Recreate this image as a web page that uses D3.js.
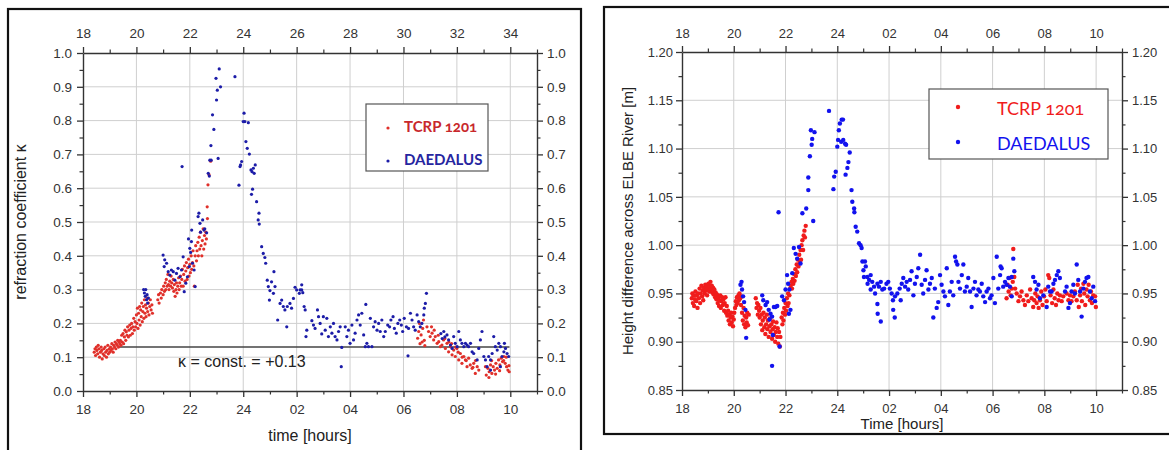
<!DOCTYPE html>
<html>
<head>
<meta charset="utf-8">
<script src="https://cdn.jsdelivr.net/npm/d3@7"></script>
<style>
  body { margin: 0; background: #fff; }
  svg { display: block; font-family: "Liberation Sans", Arial, sans-serif; }
</style>
</head>
<body>
<svg id="chart" width="1169" height="450"></svg>
<script>
// ---- time axis (hours after 18:00, continuing past midnight) ----
const majorHours = [18, 20, 22, 24, 26, 28, 30, 32, 34];
const minorHours = [19, 21, 23, 25, 27, 29, 31, 33, 35];
const kappaTopLabels = ["18", "20", "22", "24", "26", "28", "30", "32", "34"];
const clockLabels = ["18", "20", "22", "24", "02", "04", "06", "08", "10"];

// ---- value axes ----
const kappaTicks = [0, 0.1, 0.2, 0.3, 0.4, 0.5, 0.6, 0.7, 0.8, 0.9, 1.0];
const kappaMinor = [0.05, 0.15, 0.25, 0.35, 0.45, 0.55, 0.65, 0.75, 0.85, 0.95];
const heightTicks = [0.85, 0.90, 0.95, 1.00, 1.05, 1.10, 1.15, 1.20];
const heightMinor = [0.875, 0.925, 0.975, 1.025, 1.075, 1.125, 1.175];

const seriesNames = ["TCRP 1201", "DAEDALUS"];
const kappaConst = 0.13;

// ---- refraction coefficient, TCRP 1201 [hour, kappa] ----
const kappaTcrp = [
  [18.42,0.115],[18.45,0.125],[18.47,0.105],[18.5,0.13],[18.52,0.12],[18.55,0.11],[18.57,0.135],[18.6,0.125],
  [18.62,0.10],[18.65,0.115],[18.68,0.13],[18.7,0.12],[18.72,0.095],[18.75,0.11],[18.78,0.125],[18.8,0.105],
  [18.83,0.13],[18.85,0.115],[18.88,0.10],[18.9,0.12],[18.93,0.135],[18.95,0.11],[18.98,0.125],[19.0,0.115],
  [19.03,0.13],[19.05,0.12],[19.08,0.14],[19.1,0.125],[19.13,0.115],[19.15,0.135],[19.18,0.13],[19.2,0.145],
  [19.23,0.125],[19.25,0.14],[19.28,0.135],[19.3,0.15],[19.33,0.13],[19.35,0.145],[19.38,0.14],
  [19.4,0.15],[19.42,0.135],[19.45,0.165],[19.47,0.145],[19.5,0.17],[19.52,0.14],[19.55,0.16],[19.57,0.18],
  [19.6,0.15],[19.62,0.175],[19.65,0.165],[19.67,0.19],[19.7,0.16],[19.72,0.18],[19.75,0.195],[19.77,0.165],
  [19.8,0.185],[19.82,0.2],[19.85,0.17],[19.87,0.19],[19.9,0.215],[19.92,0.18],[19.95,0.205],[19.97,0.19],
  [20.0,0.225],[20.02,0.2],[20.04,0.245],[20.06,0.185],[20.08,0.23],[20.1,0.21],[20.12,0.25],[20.14,0.195],
  [20.16,0.24],[20.18,0.22],[20.2,0.26],[20.22,0.205],[20.24,0.235],[20.26,0.25],[20.28,0.215],[20.3,0.27],
  [20.32,0.23],[20.34,0.255],[20.36,0.22],[20.38,0.245],[20.4,0.275],[20.42,0.235],[20.45,0.26],[20.47,0.225],
  [20.5,0.25],[20.52,0.27],[20.55,0.24],[20.58,0.255],[20.6,0.23],
  [20.8,0.27],[20.83,0.285],[20.85,0.26],[20.9,0.29],[20.93,0.275],[20.95,0.3],[21.0,0.285],[21.02,0.31],
  [21.05,0.295],[21.08,0.32],[21.1,0.3],[21.12,0.33],[21.15,0.31],[21.18,0.345],[21.2,0.315],[21.22,0.3],
  [21.25,0.325],[21.28,0.31],[21.3,0.34],[21.32,0.32],[21.35,0.305],[21.38,0.33],[21.4,0.295],[21.42,0.315],
  [21.45,0.28],[21.48,0.3],[21.5,0.32],[21.52,0.29],[21.55,0.31],[21.58,0.335],[21.6,0.3],[21.62,0.32],
  [21.65,0.34],[21.68,0.31],
  [21.7,0.33],[21.72,0.36],[21.75,0.31],[21.77,0.345],[21.8,0.37],[21.82,0.325],[21.85,0.355],[21.87,0.38],
  [21.9,0.33],[21.92,0.365],[21.95,0.39],[21.97,0.34],[22.0,0.375],[22.02,0.35],[22.05,0.4],[22.07,0.36],
  [22.1,0.38],[22.12,0.415],[22.15,0.37],[22.17,0.31],[22.2,0.4],[22.22,0.43],[22.25,0.385],[22.27,0.415],
  [22.3,0.44],[22.32,0.4],[22.35,0.455],[22.37,0.42],[22.4,0.47],[22.42,0.43],[22.45,0.4],[22.47,0.445],
  [22.5,0.48],[22.52,0.42],[22.55,0.46],[22.57,0.435],[22.6,0.47],[22.62,0.45],
  [22.65,0.545],[22.66,0.51],[22.68,0.61],[22.72,0.64],[22.78,0.68],
  [30.53,0.156],[30.57,0.176],[30.6,0.2],[30.62,0.14],[30.66,0.166],[30.7,0.145],[30.72,0.185],[30.75,0.21],
  [30.78,0.15],[30.8,0.134],[30.88,0.19],[30.94,0.176],[31.0,0.161],[31.05,0.19],[31.07,0.171],[31.13,0.151],
  [31.15,0.18],[31.19,0.161],[31.26,0.141],[31.3,0.165],[31.32,0.146],[31.38,0.131],[31.44,0.136],[31.5,0.151],
  [31.55,0.155],[31.57,0.126],[31.63,0.141],[31.69,0.116],[31.7,0.145],[31.76,0.131],[31.8,0.14],[31.82,0.107],
  [31.88,0.121],[31.94,0.102],[31.95,0.13],[32.0,0.126],[32.05,0.115],[32.07,0.092],[32.13,0.111],[32.19,0.082],
  [32.2,0.1],[32.26,0.102],[32.32,0.092],[32.35,0.09],[32.38,0.072],[32.44,0.097],[32.5,0.077],[32.57,0.067],
  [32.6,0.07],[32.63,0.082],[32.69,0.052],[32.7,0.09],[32.76,0.072],[32.82,0.062],
  [33.07,0.072],[33.1,0.047],[33.16,0.067],[33.2,0.04],[33.21,0.057],[33.26,0.077],[33.3,0.09],[33.31,0.052],
  [33.36,0.072],[33.41,0.062],[33.45,0.05],[33.46,0.082],[33.51,0.067],[33.56,0.092],[33.6,0.06],[33.61,0.077],
  [33.66,0.097],[33.71,0.087],[33.75,0.09],[33.76,0.102],[33.81,0.082],[33.85,0.1],[33.86,0.072],[33.91,0.062],
  [33.95,0.075],[33.96,0.057]
];

// ---- refraction coefficient, DAEDALUS [hour, kappa] ----
const kappaDaedalus = [
  [20.27,0.3],[20.3,0.29],[20.33,0.28],[20.35,0.3],[20.38,0.27],[20.4,0.285],[20.42,0.26],[20.45,0.275],
  [21.0,0.402],[21.06,0.388],[21.13,0.378],[21.04,0.368],[21.19,0.353],[21.25,0.343],[21.31,0.358],[21.38,0.353],
  [21.44,0.328],[21.5,0.348],[21.56,0.363],[21.63,0.338],[21.69,0.358],[21.75,0.397],[21.79,0.294],[21.85,0.319],
  [21.91,0.338],[21.95,0.45],[21.98,0.368],[22.0,0.422],[22.03,0.41],[22.06,0.442],[22.07,0.476],[22.1,0.378],
  [22.16,0.358],[22.2,0.309],[21.71,0.664],[22.31,0.516],[22.34,0.526],[22.38,0.496],[22.4,0.47],[22.48,0.506],
  [22.53,0.476],[22.56,0.48],[22.63,0.468],
  [22.69,0.644],[22.73,0.636],[22.75,0.683],[22.8,0.683],[22.79,0.726],[22.9,0.774],[22.85,0.817],[23.0,0.861],
  [23.03,0.89],[22.98,0.925],[23.15,0.9],[23.1,0.953],[23.06,0.688],[23.69,0.93],
  [23.84,0.609],[23.9,0.669],[23.94,0.679],[23.88,0.664],[24.03,0.822],[24.06,0.797],[24.19,0.794],[24.0,0.797],
  [24.1,0.738],[24.15,0.718],[24.23,0.701],[24.29,0.654],[24.38,0.659],[24.45,0.669],[24.41,0.644],[24.33,0.649],
  [24.35,0.597],[24.31,0.582],[24.5,0.56],[24.59,0.526],[24.56,0.506],[24.6,0.494],[24.69,0.427],[24.75,0.407],
  [24.81,0.395],[24.84,0.378],[24.9,0.328],[24.94,0.309],[25.0,0.297],[25.06,0.323],[25.15,0.353],[25.19,0.309],
  [25.13,0.289],[24.98,0.269],[25.29,0.21],[25.38,0.259],[25.44,0.269],[25.5,0.25],[25.56,0.24],[25.63,0.19],
  [25.65,0.25],[25.75,0.259],[25.81,0.245],[25.88,0.274],[25.94,0.307],[26.0,0.299],[26.1,0.289],[26.19,0.299],
  [26.13,0.299],[26.23,0.291],[26.19,0.314],[26.28,0.25],[26.32,0.24],[26.38,0.18],[26.35,0.161],[26.57,0.208],
  [26.63,0.195],[26.69,0.185],[26.78,0.24],[26.82,0.22],[26.88,0.2],[26.94,0.169],[27.0,0.22],[27.07,0.18],
  [27.13,0.215],[27.19,0.161],[27.26,0.19],[27.32,0.171],[27.38,0.2],[27.44,0.161],[27.51,0.151],[27.57,0.176],
  [27.63,0.19],[27.69,0.129],[27.67,0.072],[27.82,0.19],[27.88,0.161],[27.94,0.18],[28.0,0.141],[28.07,0.195],
  [28.13,0.151],[28.19,0.171],[28.26,0.21],[28.32,0.225],[28.38,0.195],[28.44,0.23],[28.51,0.166],[28.57,0.131],
  [28.59,0.256],[28.63,0.141],[28.69,0.131],[28.76,0.215],[28.82,0.131],[28.88,0.19],[28.94,0.205],[29.01,0.18],
  [29.07,0.2],[29.13,0.176],[29.19,0.21],[29.26,0.161],[29.32,0.176],[29.41,0.195],[29.48,0.19],[29.53,0.21],
  [29.61,0.22],[29.66,0.185],[29.73,0.171],[29.79,0.2],[29.86,0.21],[29.92,0.195],[29.97,0.176],[30.03,0.215],
  [30.11,0.19],[30.17,0.104],[30.19,0.185],[30.26,0.23],[30.32,0.21],[30.38,0.19],[30.44,0.18],[30.51,0.225],
  [30.57,0.205],[30.63,0.19],[30.69,0.2],[30.76,0.225],[30.78,0.245],[30.82,0.259],[30.86,0.289],
  [31.4,0.17],[31.45,0.155],[31.51,0.176],[31.55,0.16],[31.63,0.166],[31.69,0.151],[31.76,0.136],[31.82,0.126],
  [31.88,0.161],[31.94,0.141],[32.01,0.131],[32.07,0.176],[32.13,0.151],[32.19,0.141],[32.26,0.131],[32.32,0.141],
  [32.38,0.136],[32.44,0.131],[32.51,0.141],[32.57,0.116],[32.63,0.111],[32.76,0.092],[32.82,0.126],[32.88,0.151],
  [32.94,0.176],[33.01,0.102],[33.07,0.092],[33.13,0.072],[33.19,0.102],[33.26,0.092],[33.32,0.111],[33.38,0.161],
  [33.44,0.131],[33.51,0.121],[33.57,0.141],[33.63,0.131],[33.69,0.102],[33.76,0.116],[33.82,0.126],[33.88,0.111],
  [33.94,0.102],[33.78,0.141],[33.63,0.072],[33.26,0.062]
];

// ---- height difference across the river, TCRP 1201 [hour, metres] ----
const heightTcrp = [
  [18.38,0.945],[18.4,0.95],[18.42,0.94],[18.45,0.948],[18.47,0.937],[18.5,0.944],[18.52,0.952],[18.55,0.942],
  [18.57,0.948],[18.6,0.935],[18.62,0.95],[18.65,0.945],[18.68,0.955],[18.7,0.94],[18.72,0.95],[18.75,0.958],
  [18.78,0.947],[18.8,0.953],[18.82,0.943],[18.85,0.956],[18.88,0.95],[18.9,0.959],
  [18.92,0.953],[18.95,0.957],[18.97,0.948],[19.0,0.955],[19.02,0.96],[19.05,0.952],[19.07,0.957],[19.1,0.962],
  [19.12,0.954],[19.15,0.958],[19.17,0.951],[19.2,0.956],[19.22,0.949],[19.25,0.954],[19.28,0.946],[19.3,0.951],
  [19.33,0.944],[19.35,0.949],[19.38,0.94],[19.4,0.946],[19.43,0.937],[19.45,0.943],[19.48,0.948],[19.5,0.935],
  [19.52,0.942],[19.55,0.946],[19.58,0.938],[19.6,0.944],[19.63,0.932],[19.65,0.94],[19.68,0.946],[19.7,0.93],
  [19.73,0.937],[19.75,0.927],[19.78,0.932],[19.8,0.922],[19.82,0.928],[19.85,0.918],[19.88,0.925],[19.9,0.93],
  [19.92,0.92],[19.95,0.926],[19.97,0.916],[20.0,0.923],[20.02,0.93],
  [20.05,0.935],[20.08,0.942],[20.1,0.938],[20.12,0.946],[20.15,0.94],[20.18,0.948],[20.2,0.943],[20.22,0.95],
  [20.25,0.945],[20.28,0.938],[20.3,0.947],
  [20.32,0.93],[20.35,0.922],[20.38,0.935],[20.4,0.918],[20.42,0.927],[20.45,0.915],[20.48,0.925],[20.5,0.92],
  [20.52,0.93],[20.55,0.917],[20.58,0.928],
  [20.85,0.945],[20.88,0.935],[20.9,0.94],[20.93,0.928],[20.95,0.938],[20.98,0.932],
  [21.0,0.925],[21.03,0.935],[21.05,0.918],[21.08,0.928],[21.1,0.912],[21.12,0.922],[21.15,0.93],[21.18,0.915],
  [21.2,0.925],[21.22,0.908],[21.25,0.918],[21.28,0.928],[21.3,0.913],[21.32,0.922],[21.35,0.905],[21.38,0.916],
  [21.4,0.924],[21.42,0.91],[21.45,0.918],[21.48,0.903],[21.5,0.913],[21.52,0.921],[21.55,0.907],[21.58,0.915],
  [21.6,0.9],[21.62,0.91],[21.65,0.92],[21.68,0.905],[21.7,0.914],[21.72,0.898],[21.75,0.91],[21.78,0.895],
  [21.8,0.905],
  [21.85,0.925],[21.88,0.918],[21.9,0.93],[21.92,0.922],[21.95,0.935],[21.98,0.928],[22.0,0.94],[22.02,0.932],
  [22.05,0.945],[22.08,0.937],[22.1,0.95],[22.12,0.94],[22.15,0.948],[22.18,0.955],
  [22.2,0.958],[22.23,0.962],[22.25,0.955],[22.28,0.965],[22.3,0.96],[22.33,0.97],[22.35,0.963],[22.38,0.975],
  [22.4,0.968],[22.43,0.98],[22.45,0.972],[22.48,0.985],[22.5,0.978],[22.53,0.99],[22.55,0.982],[22.58,0.995],
  [22.6,0.985],[22.62,1.0],[22.65,1.005],[22.68,0.995],[22.7,1.01],[22.73,1.015],[22.75,1.008],[22.78,1.02],
  [30.54,0.945],[30.58,0.959],[30.62,0.952],[30.66,0.966],[30.7,0.948],[30.74,0.955],[30.78,0.962],[30.8,0.996],
  [30.84,0.967],[30.87,0.955],[30.93,0.95],[31.0,0.942],[31.06,0.947],[31.12,0.952],[31.19,0.943],[31.25,0.938],
  [31.32,0.948],[31.38,0.942],[31.45,0.954],[31.51,0.945],[31.57,0.936],[31.61,0.943],[31.65,0.95],[31.7,0.94],
  [31.74,0.947],[31.78,0.935],[31.83,0.943],[31.88,0.952],[31.93,0.938],[31.99,0.947],[32.04,0.954],[32.09,0.942],
  [32.15,0.969],[32.19,0.966],[32.24,0.948],[32.3,0.94],[32.35,0.954],[32.4,0.945],[32.45,0.938],[32.5,0.95],
  [32.55,0.943],[32.6,0.948],[32.67,0.942],[32.73,0.947],[32.86,0.95],[32.93,0.943],[32.99,0.948],[33.05,0.942],
  [33.12,0.947],[33.18,0.952],[33.25,0.943],[33.29,0.959],[33.33,0.936],[33.38,0.948],[33.42,0.955],[33.45,0.942],
  [33.51,0.96],[33.54,0.95],[33.58,0.938],[33.63,0.954],[33.67,0.947],[33.71,0.959],[33.76,0.943],[33.8,0.952],
  [33.84,0.94],[33.89,0.948],[33.96,0.947],[33.99,0.936]
];

// ---- height difference across the river, DAEDALUS [hour, metres] ----
const heightDaedalus = [
  [20.26,0.959],[20.3,0.962],[20.32,0.954],[20.36,0.947],[20.4,0.941],[20.45,0.933],[20.48,0.904],
  [21.1,0.948],[21.14,0.943],[21.23,0.938],[21.29,0.941],[21.35,0.933],[21.42,0.929],[21.38,0.923],[21.48,0.926],
  [21.55,0.936],[21.61,0.936],[21.68,0.937],[21.51,0.907],[21.48,0.875],[21.77,0.895],[21.73,1.034],
  [21.87,0.947],[21.94,0.943],[22.0,0.954],[22.06,0.969],[22.1,0.96],[22.13,0.929],[22.19,0.933],[22.15,0.954],
  [22.26,0.971],[22.32,0.997],[22.39,0.991],[22.45,0.986],[22.52,0.998],[22.58,0.981],
  [22.65,1.033],[22.8,1.038],[23.07,1.025],[22.88,1.057],[22.88,1.07],[22.94,1.092],[23.01,1.104],[23.03,1.11],
  [22.98,1.119],[23.12,1.117],[23.68,1.139],
  [23.85,1.058],[23.88,1.071],[23.94,1.076],[24.0,1.102],[24.03,1.109],[24.06,1.119],[24.1,1.126],[24.17,1.13],
  [24.22,1.13],[24.15,1.107],[24.23,1.109],[24.3,1.105],[24.34,1.104],[24.48,1.096],[24.43,1.086],[24.39,1.08],
  [24.32,1.073],[24.55,1.057],[24.58,1.045],[24.65,1.038],[24.66,1.034],[24.71,1.019],[24.77,1.014],[24.84,1.002],
  [24.9,1.0],[24.94,0.997],[24.97,0.983],[25.07,0.983],[25.1,0.978],[25.01,0.974],[25.03,0.967],[25.16,0.967],
  [25.29,0.969],[25.23,0.964],[25.35,0.962],[25.42,0.957],[25.17,0.96],[25.29,0.954],[25.46,0.95],[25.55,0.96],
  [25.61,0.957],[25.68,0.962],[25.74,0.954],[25.81,0.955],[25.9,0.96],[25.97,0.962],[26.03,0.955],[26.1,0.95],
  [26.15,0.943],[26.23,0.947],[26.32,0.95],[26.41,0.955],[26.45,0.943],[25.55,0.939],[25.56,0.929],[25.68,0.921],
  [26.16,0.933],[26.22,0.925],
  [26.49,0.96],[26.55,0.966],[26.62,0.957],[26.68,0.962],[26.74,0.954],[26.81,0.964],[26.87,0.973],[26.94,0.948],
  [27.0,0.96],[27.07,0.967],[27.13,0.976],[27.2,0.99],[27.26,0.959],[27.32,0.95],[27.39,0.964],[27.45,0.974],
  [27.52,0.954],[27.58,0.96],[27.65,0.966],[27.71,0.925],[27.77,0.955],[27.84,0.935],[27.9,0.941],[27.97,0.969],
  [28.03,0.959],[28.1,0.952],[28.16,0.947],[28.23,0.976],[28.29,0.938],[28.35,0.952],[28.42,0.962],[28.48,0.948],
  [28.55,0.988],[28.59,0.983],[28.64,0.98],[28.68,0.962],[28.74,0.955],[28.81,0.969],[28.87,0.98],[28.93,0.952],
  [29.0,0.957],[29.06,0.966],[29.13,0.952],[29.19,0.936],[29.26,0.955],[29.32,0.962],[29.38,0.948],[29.45,0.954],
  [29.51,0.952],[29.58,0.96],[29.64,0.947],[29.71,0.941],[29.77,0.952],[29.84,0.955],[29.9,0.945],[29.96,0.948],
  [30.03,0.966],[30.09,0.94],[30.16,0.988],[30.22,0.955],[30.29,0.969],[30.31,0.978],[30.35,0.976],[30.41,0.957],
  [30.48,0.962],[30.54,0.959],[30.61,0.966],[30.67,0.957],[30.74,0.967],[30.8,0.986],[30.84,0.973],[30.74,0.947],
  [31.57,0.967],[31.64,0.962],[31.7,0.954],[31.77,0.959],[31.83,0.945],[31.96,0.948],[32.09,0.936],[32.15,0.957],
  [32.22,0.952],[32.28,0.952],[32.35,0.96],[32.41,0.964],[32.48,0.969],[32.54,0.973],[32.6,0.966],[32.8,0.952],
  [32.86,0.957],[32.93,0.935],[32.99,0.94],[33.05,0.952],[33.12,0.959],[33.18,0.95],[33.25,0.98],[33.31,0.964],
  [33.38,0.952],[33.44,0.926],[33.51,0.955],[33.57,0.962],[33.63,0.966],[33.7,0.967],[33.76,0.952],[33.83,0.945],
  [33.89,0.957],[33.96,0.942]
];

const svg = d3.select("#chart");

function drawPanel(cfg) {
  const g = svg.append("g");
  const x = d3.scaleLinear().domain([18, 35]).range([cfg.left, cfg.right]);
  const y = d3.scaleLinear().domain(cfg.yDomain).range([cfg.bottom, cfg.top]);

  // outer frame
  g.append("rect")
    .attr("x", cfg.frame[0]).attr("y", cfg.frame[1])
    .attr("width", cfg.frame[2]).attr("height", cfg.frame[3])
    .attr("fill", "none").attr("stroke", "#111").attr("stroke-width", 2.2);

  // grid
  const grid = g.append("g").attr("stroke", "#cfcfcf").attr("stroke-width", 1);
  grid.selectAll("line.v").data(majorHours.filter(d => d > 18)).join("line")
    .attr("x1", d => x(d)).attr("x2", d => x(d))
    .attr("y1", cfg.top).attr("y2", cfg.bottom);
  grid.selectAll("line.h").data(cfg.yTicks.filter((d, i) => i > 0 && i < cfg.yTicks.length - 1)).join("line")
    .attr("x1", cfg.left).attr("x2", cfg.right)
    .attr("y1", d => y(d)).attr("y2", d => y(d));

  if (cfg.extra) cfg.extra(g, x, y);

  // scatter points
  cfg.series.forEach(s => {
    g.append("g").selectAll("circle").data(s.data).join("circle")
      .attr("cx", d => x(d[0])).attr("cy", d => y(d[1]))
      .attr("r", cfg.r).attr("fill", s.color);
  });

  // axes
  const styleAxis = sel => {
    sel.select(".domain").attr("stroke", "#333").attr("stroke-width", 1.4);
    sel.selectAll(".tick line").attr("stroke", "#333").attr("stroke-width", 1.3);
    sel.selectAll(".tick text").attr("fill", "#333")
      .style("font-family", '"Liberation Sans", Arial, sans-serif')
      .style("font-size", cfg.tickFont + "px");
  };
  const minorStyle = sel => {
    sel.select(".domain").remove();
    sel.selectAll(".tick line").attr("stroke", "#333").attr("stroke-width", 1.2);
  };

  g.append("g").attr("transform", `translate(0,${cfg.bottom})`)
    .call(d3.axisBottom(x).tickValues(majorHours).tickFormat((d, i) => cfg.bottomLabels[i])
      .tickSizeInner(6).tickSizeOuter(0).tickPadding(cfg.bottomPad)).call(styleAxis);
  g.append("g").attr("transform", `translate(0,${cfg.bottom})`)
    .call(d3.axisBottom(x).tickValues(minorHours).tickFormat("").tickSize(3.5)).call(minorStyle);

  g.append("g").attr("transform", `translate(0,${cfg.top})`)
    .call(d3.axisTop(x).tickValues(majorHours).tickFormat((d, i) => cfg.topLabels[i])
      .tickSizeInner(6).tickSizeOuter(0).tickPadding(cfg.topPad)).call(styleAxis);
  g.append("g").attr("transform", `translate(0,${cfg.top})`)
    .call(d3.axisTop(x).tickValues(minorHours).tickFormat("").tickSize(3.5)).call(minorStyle);

  g.append("g").attr("transform", `translate(${cfg.left},0)`)
    .call(d3.axisLeft(y).tickValues(cfg.yTicks).tickFormat(d3.format(cfg.yFormat))
      .tickSizeInner(6).tickSizeOuter(0).tickPadding(cfg.leftPad)).call(styleAxis);
  g.append("g").attr("transform", `translate(${cfg.left},0)`)
    .call(d3.axisLeft(y).tickValues(cfg.yMinor).tickFormat("").tickSize(3.5)).call(minorStyle);

  g.append("g").attr("transform", `translate(${cfg.right},0)`)
    .call(d3.axisRight(y).tickValues(cfg.yTicks).tickFormat(d3.format(cfg.yFormat))
      .tickSizeInner(6).tickSizeOuter(0).tickPadding(4)).call(styleAxis);
  g.append("g").attr("transform", `translate(${cfg.right},0)`)
    .call(d3.axisRight(y).tickValues(cfg.yMinor).tickFormat("").tickSize(3.5)).call(minorStyle);

  // axis titles
  g.append("text").attr("x", (cfg.left + cfg.right) / 2).attr("y", cfg.xTitleY)
    .attr("text-anchor", "middle").attr("fill", "#222")
    .style("font-size", cfg.titleFont + "px").text(cfg.xTitle);
  g.append("text")
    .attr("transform", `translate(${cfg.yTitleX},${(cfg.top + cfg.bottom) / 2}) rotate(-90)`)
    .attr("text-anchor", "middle").attr("fill", "#222")
    .style("font-size", cfg.titleFont + "px").text(cfg.yTitle);

  // legend
  const L = cfg.legend;
  const lg = g.append("g");
  lg.append("rect").attr("x", L.x).attr("y", L.y).attr("width", L.w).attr("height", L.h)
    .attr("fill", "#fff").attr("stroke", "#555").attr("stroke-width", 1.2);
  cfg.series.forEach((s, i) => {
    lg.append("circle").attr("cx", L.markX).attr("cy", L.rows[i] - L.markDy).attr("r", cfg.r)
      .attr("fill", s.color);
    lg.append("text").attr("x", L.textX).attr("y", L.rows[i])
      .attr("fill", s.textColor)
      .style("font-family", 'Lato, "Open Sans", sans-serif')
      .style("font-weight", L.weight)
      .style("font-size", L.font + "px")
      .style("font-variant-numeric", "oldstyle-nums")
      .text(seriesNames[i]);
  });
}

// refraction coefficient panel
drawPanel({
  frame: [8, 9, 573, 460],
  left: 83, right: 537, top: 53, bottom: 391,
  yDomain: [0, 1], yTicks: kappaTicks, yMinor: kappaMinor, yFormat: ".1f",
  bottomLabels: clockLabels, topLabels: kappaTopLabels,
  bottomPad: 7, topPad: 9, leftPad: 5,
  tickFont: 13.5, titleFont: 16, r: 1.6,
  xTitle: "time [hours]", xTitleY: 441,
  yTitle: "refraction coefficient \u03ba", yTitleX: 26,
  series: [
    { data: kappaTcrp, color: "#e0302a", textColor: "#c8282c" },
    { data: kappaDaedalus, color: "#1c1ca8", textColor: "#2626a0" }
  ],
  legend: { x: 366, y: 104, w: 122, h: 67, markX: 388, markDy: 4, textX: 404,
            rows: [132, 165], font: 15, weight: 700 },
  extra: (g, x, y) => {
    g.append("line")
      .attr("x1", x(19.3)).attr("x2", x(33.97))
      .attr("y1", y(kappaConst)).attr("y2", y(kappaConst))
      .attr("stroke", "#444").attr("stroke-width", 1.5);
    g.append("text").attr("x", 178).attr("y", 367).attr("fill", "#222")
      .style("font-size", "16px")
      .text("\u03ba = const. = +" + kappaConst.toFixed(2));
  }
});

// height difference panel
drawPanel({
  frame: [604, 7, 600, 427],
  left: 682, right: 1122, top: 52, bottom: 390,
  yDomain: [0.85, 1.20], yTicks: heightTicks, yMinor: heightMinor, yFormat: ".2f",
  bottomLabels: clockLabels, topLabels: clockLabels,
  bottomPad: 8, topPad: 8, leftPad: 3,
  tickFont: 13, titleFont: 15, r: 2.2,
  xTitle: "Time [hours]", xTitleY: 429,
  yTitle: "Height difference across ELBE River [m]", yTitleX: 633,
  series: [
    { data: heightTcrp, color: "#f01c1c", textColor: "#f01c1c" },
    { data: heightDaedalus, color: "#1212ee", textColor: "#1212ee" }
  ],
  legend: { x: 929, y: 89, w: 179, h: 70, markX: 958, markDy: 8, textX: 997,
            rows: [115, 150], font: 18, weight: 400 }
});
</script>
</body>
</html>
